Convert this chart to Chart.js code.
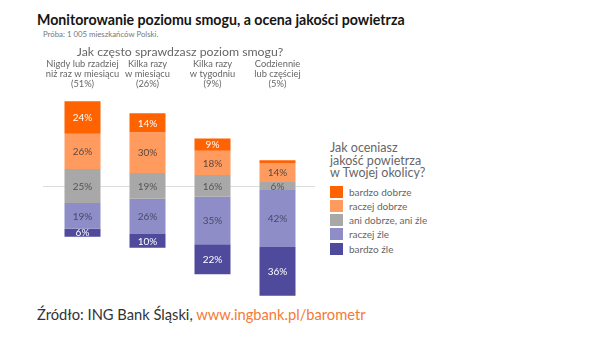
<!DOCTYPE html>
<html lang="pl">
<head>
<meta charset="utf-8">
<title>Monitorowanie poziomu smogu</title>
<script src="https://cdn.jsdelivr.net/npm/chart.js@4.4.1/dist/chart.umd.min.js"></script>
<style>
  body { margin: 0; width: 600px; height: 341px; background: #fff; position: relative; overflow: hidden;
         font-family: Lato, "Open Sans", sans-serif; }
  #title { position: absolute; left: 37px; top: 11px; font-size: 14.2px; font-weight: bold; color: #151515; white-space: nowrap; }
  #sample { position: absolute; left: 43px; top: 29px; font-size: 7.8px; color: #777; white-space: nowrap; }
  #wrap { position: absolute; left: 0; top: 38px; }
  #legend { position: absolute; left: 330px; top: 142px; color: #666; }
  #legend .head { font-size: 12.5px; line-height: 12.5px; margin-bottom: 6px; white-space: nowrap; }
  #legend ul { list-style: none; margin: 0; padding: 0; }
  #legend li { display: flex; align-items: center; height: 12px; margin-bottom: 2.3px; font-size: 10px; white-space: nowrap; }
  #legend .box { width: 13px; height: 12px; margin-right: 6px; }
  #source { position: absolute; left: 37px; top: 305px; font-size: 14.7px; color: #333; white-space: nowrap; }
  #source span { color: #f47a36; }
</style>
</head>
<body>
<div id="title">Monitorowanie poziomu smogu, a ocena jakości powietrza</div>
<div id="sample">Próba: 1 005 mieszkańców Polski.</div>
<div id="wrap"><canvas id="smogChart" width="320" height="267"></canvas></div>
<div id="legend"></div>
<div id="source">Źródło: ING Bank Śląski, <span>www.ingbank.pl/barometr</span></div>

<script>
// How often people check smog levels (column headers)
const categories = [
  ['Nigdy lub rzadziej', 'niż raz w miesiącu', '(51%)'],
  ['Kilka razy', 'w miesiącu', '(26%)'],
  ['Kilka razy', 'w tygodniu', '(9%)'],
  ['Codziennie', 'lub częściej', '(5%)']
];

// Air quality rating, % of each group
const bardzoDobrze = [24, 14, 9, 2];
const raczejDobrze = [26, 30, 18, 14];
const aniDobrzeAniZle = [25, 19, 16, 6];
const raczejZle = [19, 26, 35, 42];
const bardzoZle = [6, 10, 22, 36];

const seriesNames = ['bardzo dobrze', 'raczej dobrze', 'ani dobrze, ani źle', 'raczej źle', 'bardzo źle'];

Chart.defaults.font.family = 'Lato, "Open Sans", sans-serif';

// diverging layout: neutral answer centred on zero, positives above, negatives below
const half = aniDobrzeAniZle.map(v => v / 2);
const rangeNeutral = aniDobrzeAniZle.map((v, i) => [-half[i], half[i]]);
const rangeRaczejDobrze = raczejDobrze.map((v, i) => [half[i], half[i] + v]);
const rangeBardzoDobrze = bardzoDobrze.map((v, i) => [half[i] + raczejDobrze[i], half[i] + raczejDobrze[i] + v]);
const rangeRaczejZle = raczejZle.map((v, i) => [-half[i] - v, -half[i]]);
const rangeBardzoZle = bardzoZle.map((v, i) => [-half[i] - raczejZle[i] - v, -half[i] - raczejZle[i]]);

// zero line, a bit wider than the plot
const zeroLine = {
  id: 'zeroLine',
  beforeDatasetsDraw(chart) {
    const {ctx, chartArea, scales} = chart;
    const y = Math.round(scales.y.getPixelForValue(0)) + 0.5;
    ctx.save();
    ctx.strokeStyle = '#dddddd';
    ctx.lineWidth = 1;
    ctx.beginPath();
    ctx.moveTo(chartArea.left - 7, y);
    ctx.lineTo(chartArea.right + 5, y);
    ctx.stroke();
    ctx.restore();
  }
};

// percentage labels inside segments
const segmentLabels = {
  id: 'segmentLabels',
  afterDatasetsDraw(chart) {
    const ctx = chart.ctx;
    ctx.save();
    ctx.font = '10px ' + Chart.defaults.font.family;
    ctx.textAlign = 'center';
    ctx.textBaseline = 'middle';
    chart.data.datasets.forEach((ds, di) => {
      chart.getDatasetMeta(di).data.forEach((bar, i) => {
        const v = ds.values[i];
        if (v < 3) return;
        const {x, y, base} = bar.getProps(['x', 'y', 'base'], true);
        ctx.fillStyle = ds.labelColor;
        ctx.fillText(v + '%', x, (y + base) / 2 + 0.5);
      });
    });
    ctx.restore();
  }
};

const chart = new Chart(document.getElementById('smogChart'), {
  type: 'bar',
  data: {
    labels: categories,
    datasets: [
      { label: seriesNames[0], data: rangeBardzoDobrze, values: bardzoDobrze, backgroundColor: '#ff6200', labelColor: '#ffffff' },
      { label: seriesNames[1], data: rangeRaczejDobrze, values: raczejDobrze, backgroundColor: '#ff9b5f', labelColor: '#5a4a44' },
      { label: seriesNames[2], data: rangeNeutral, values: aniDobrzeAniZle, backgroundColor: '#a8a8a8', labelColor: '#555555' },
      { label: seriesNames[3], data: rangeRaczejZle, values: raczejZle, backgroundColor: '#8f8dc8', labelColor: '#4a4866' },
      { label: seriesNames[4], data: rangeBardzoZle, values: bardzoZle, backgroundColor: '#4f4a9c', labelColor: '#ffffff' }
    ]
  },
  options: {
    responsive: false,
    animation: false,
    layout: { padding: { left: 50, right: 10, top: 0, bottom: 4 } },
    datasets: { bar: { grouped: false, categoryPercentage: 1, barPercentage: 0.554, borderWidth: 0 } },
    plugins: { legend: { display: false }, tooltip: { enabled: false } },
    scales: {
      x: {
        position: 'top',
        grid: { display: false, drawTicks: false },
        border: { display: false },
        ticks: { color: '#666', font: { size: 9.3, lineHeight: 1.075 }, padding: 0.5, maxRotation: 0, autoSkip: false },
        title: { display: true, text: 'Jak często sprawdzasz poziom smogu?', color: '#666', font: { size: 12.3, lineHeight: 1 }, padding: { top: 8.2, bottom: 0 } }
      },
      y: { display: false, min: -84.8, max: 71.1 }
    }
  },
  plugins: [zeroLine, segmentLabels]
});

// legend built from the chart's own datasets
const legendItems = Chart.defaults.plugins.legend.labels.generateLabels(chart);
document.getElementById('legend').innerHTML =
  '<div class="head">Jak oceniasz<br>jakość powietrza<br>w Twojej okolicy?</div><ul>' +
  legendItems.map(it => '<li><span class="box" style="background:' + it.fillStyle + '"></span>' + it.text + '</li>').join('') +
  '</ul>';
</script>
</body>
</html>
